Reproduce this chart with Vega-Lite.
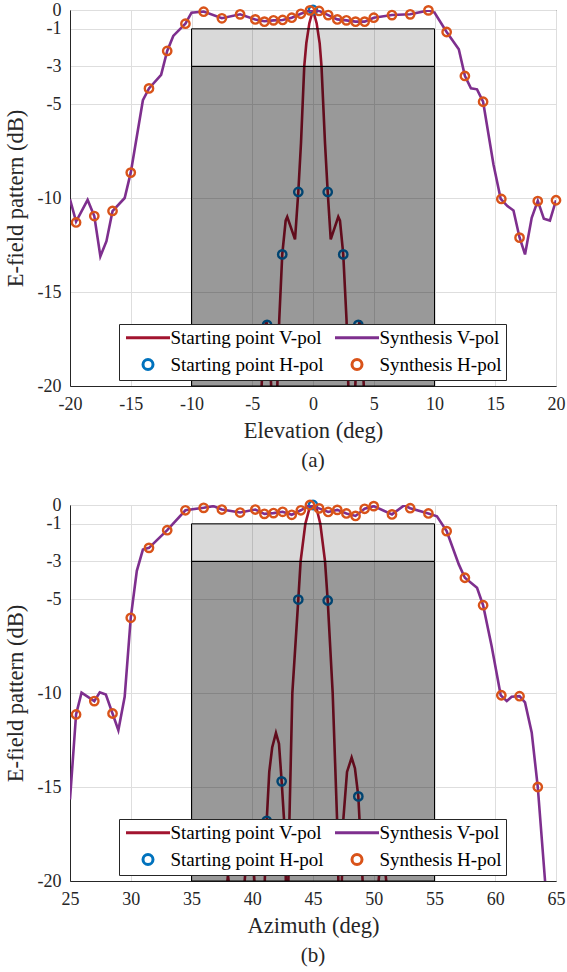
{
  "$schema": "https://vega.github.io/schema/vega-lite/v6.json",
  "background": "white",
  "padding": {"left": 3, "top": 0, "right": 0, "bottom": 5},
  "spacing": 24,
  "resolve": {"scale": {"color": "independent", "shape": "independent"}},
  "datasets": {
    "elev": [
      {"series": "Starting point V-pol", "x": -5.0, "y": -28},
      {"series": "Starting point V-pol", "x": -4.25, "y": -20.3},
      {"series": "Starting point V-pol", "x": -4.05, "y": -17.6},
      {"series": "Starting point V-pol", "x": -3.85, "y": -16.5},
      {"series": "Starting point V-pol", "x": -3.65, "y": -17.3},
      {"series": "Starting point V-pol", "x": -3.42, "y": -20.3},
      {"series": "Starting point V-pol", "x": -3.18, "y": -26},
      {"series": "Starting point V-pol", "x": -2.95, "y": -20.3},
      {"series": "Starting point V-pol", "x": -2.78, "y": -16.5},
      {"series": "Starting point V-pol", "x": -2.53, "y": -13.0},
      {"series": "Starting point V-pol", "x": -2.25, "y": -11.2},
      {"series": "Starting point V-pol", "x": -2.12, "y": -11.0},
      {"series": "Starting point V-pol", "x": -1.48, "y": -12.2},
      {"series": "Starting point V-pol", "x": -1.21, "y": -9.68},
      {"series": "Starting point V-pol", "x": -0.99, "y": -7.1},
      {"series": "Starting point V-pol", "x": -0.72, "y": -3.0},
      {"series": "Starting point V-pol", "x": -0.55, "y": -1.77},
      {"series": "Starting point V-pol", "x": -0.3, "y": -0.7},
      {"series": "Starting point V-pol", "x": 0, "y": 0},
      {"series": "Starting point V-pol", "x": 0.3, "y": -0.7},
      {"series": "Starting point V-pol", "x": 0.55, "y": -1.77},
      {"series": "Starting point V-pol", "x": 0.7, "y": -3.0},
      {"series": "Starting point V-pol", "x": 0.99, "y": -7.1},
      {"series": "Starting point V-pol", "x": 1.21, "y": -9.68},
      {"series": "Starting point V-pol", "x": 1.46, "y": -12.2},
      {"series": "Starting point V-pol", "x": 2.08, "y": -11.0},
      {"series": "Starting point V-pol", "x": 2.22, "y": -11.2},
      {"series": "Starting point V-pol", "x": 2.49, "y": -13.0},
      {"series": "Starting point V-pol", "x": 2.76, "y": -16.5},
      {"series": "Starting point V-pol", "x": 2.92, "y": -20.3},
      {"series": "Starting point V-pol", "x": 3.18, "y": -26},
      {"series": "Starting point V-pol", "x": 3.46, "y": -20.3},
      {"series": "Starting point V-pol", "x": 3.66, "y": -17.3},
      {"series": "Starting point V-pol", "x": 3.85, "y": -16.5},
      {"series": "Starting point V-pol", "x": 4.02, "y": -17.6},
      {"series": "Starting point V-pol", "x": 4.2, "y": -20.3},
      {"series": "Starting point V-pol", "x": 5.0, "y": -28},

      {"series": "Starting point H-pol", "x": -3.78, "y": -16.75},
      {"series": "Starting point H-pol", "x": -2.53, "y": -13.0},
      {"series": "Starting point H-pol", "x": -1.21, "y": -9.68},
      {"series": "Starting point H-pol", "x": 0, "y": 0},
      {"series": "Starting point H-pol", "x": 1.21, "y": -9.68},
      {"series": "Starting point H-pol", "x": 2.49, "y": -13.0},
      {"series": "Starting point H-pol", "x": 3.73, "y": -16.75},

      {"series": "Synthesis V-pol", "x": -20, "y": -10.07},
      {"series": "Synthesis V-pol", "x": -19.5, "y": -11.25},
      {"series": "Synthesis V-pol", "x": -18.55, "y": -10.1},
      {"series": "Synthesis V-pol", "x": -18, "y": -10.96},
      {"series": "Synthesis V-pol", "x": -17.5, "y": -13.1},
      {"series": "Synthesis V-pol", "x": -17, "y": -12.3},
      {"series": "Synthesis V-pol", "x": -16.5, "y": -10.7},
      {"series": "Synthesis V-pol", "x": -15.5, "y": -10.0},
      {"series": "Synthesis V-pol", "x": -15, "y": -8.65},
      {"series": "Synthesis V-pol", "x": -14, "y": -4.8},
      {"series": "Synthesis V-pol", "x": -13.5, "y": -4.17},
      {"series": "Synthesis V-pol", "x": -12.5, "y": -3.45},
      {"series": "Synthesis V-pol", "x": -12, "y": -2.18},
      {"series": "Synthesis V-pol", "x": -11.5, "y": -1.38},
      {"series": "Synthesis V-pol", "x": -10.5, "y": -0.73},
      {"series": "Synthesis V-pol", "x": -10, "y": -0.14},
      {"series": "Synthesis V-pol", "x": -9, "y": -0.08},
      {"series": "Synthesis V-pol", "x": -7.5, "y": -0.44},
      {"series": "Synthesis V-pol", "x": -6, "y": -0.23},
      {"series": "Synthesis V-pol", "x": -4.75, "y": -0.5},
      {"series": "Synthesis V-pol", "x": -4, "y": -0.6},
      {"series": "Synthesis V-pol", "x": -3.25, "y": -0.55},
      {"series": "Synthesis V-pol", "x": -2.5, "y": -0.53},
      {"series": "Synthesis V-pol", "x": -1.75, "y": -0.41},
      {"series": "Synthesis V-pol", "x": -1, "y": -0.2},
      {"series": "Synthesis V-pol", "x": -0.25, "y": -0.02},
      {"series": "Synthesis V-pol", "x": 0.5, "y": -0.05},
      {"series": "Synthesis V-pol", "x": 1.25, "y": -0.27},
      {"series": "Synthesis V-pol", "x": 2, "y": -0.5},
      {"series": "Synthesis V-pol", "x": 2.75, "y": -0.55},
      {"series": "Synthesis V-pol", "x": 3.5, "y": -0.62},
      {"series": "Synthesis V-pol", "x": 4.25, "y": -0.62},
      {"series": "Synthesis V-pol", "x": 5, "y": -0.41},
      {"series": "Synthesis V-pol", "x": 6.5, "y": -0.27},
      {"series": "Synthesis V-pol", "x": 8, "y": -0.23},
      {"series": "Synthesis V-pol", "x": 9.5, "y": -0.02},
      {"series": "Synthesis V-pol", "x": 10, "y": -0.14},
      {"series": "Synthesis V-pol", "x": 11, "y": -1.17},
      {"series": "Synthesis V-pol", "x": 12, "y": -2.09},
      {"series": "Synthesis V-pol", "x": 12.5, "y": -3.5},
      {"series": "Synthesis V-pol", "x": 13, "y": -4.17},
      {"series": "Synthesis V-pol", "x": 13.5, "y": -4.22},
      {"series": "Synthesis V-pol", "x": 14, "y": -4.88},
      {"series": "Synthesis V-pol", "x": 14.85, "y": -8.2},
      {"series": "Synthesis V-pol", "x": 15.45, "y": -10.05},
      {"series": "Synthesis V-pol", "x": 16, "y": -10.43},
      {"series": "Synthesis V-pol", "x": 16.5, "y": -10.66},
      {"series": "Synthesis V-pol", "x": 17, "y": -12.1},
      {"series": "Synthesis V-pol", "x": 17.45, "y": -13.0},
      {"series": "Synthesis V-pol", "x": 18, "y": -11.05},
      {"series": "Synthesis V-pol", "x": 18.5, "y": -10.15},
      {"series": "Synthesis V-pol", "x": 19, "y": -11.1},
      {"series": "Synthesis V-pol", "x": 19.5, "y": -11.2},
      {"series": "Synthesis V-pol", "x": 20, "y": -10.12},

      {"series": "Synthesis H-pol", "x": -19.5, "y": -11.3},
      {"series": "Synthesis H-pol", "x": -18, "y": -10.96},
      {"series": "Synthesis H-pol", "x": -16.5, "y": -10.69},
      {"series": "Synthesis H-pol", "x": -15, "y": -8.65},
      {"series": "Synthesis H-pol", "x": -13.5, "y": -4.17},
      {"series": "Synthesis H-pol", "x": -12, "y": -2.18},
      {"series": "Synthesis H-pol", "x": -10.5, "y": -0.73},
      {"series": "Synthesis H-pol", "x": -9, "y": -0.09},
      {"series": "Synthesis H-pol", "x": -7.5, "y": -0.44},
      {"series": "Synthesis H-pol", "x": -6, "y": -0.23},
      {"series": "Synthesis H-pol", "x": -4.75, "y": -0.5},
      {"series": "Synthesis H-pol", "x": -4, "y": -0.62},
      {"series": "Synthesis H-pol", "x": -3.25, "y": -0.55},
      {"series": "Synthesis H-pol", "x": -2.5, "y": -0.53},
      {"series": "Synthesis H-pol", "x": -1.75, "y": -0.41},
      {"series": "Synthesis H-pol", "x": -1, "y": -0.2},
      {"series": "Synthesis H-pol", "x": -0.25, "y": -0.02},
      {"series": "Synthesis H-pol", "x": 0.5, "y": -0.05},
      {"series": "Synthesis H-pol", "x": 1.25, "y": -0.27},
      {"series": "Synthesis H-pol", "x": 2, "y": -0.5},
      {"series": "Synthesis H-pol", "x": 2.75, "y": -0.55},
      {"series": "Synthesis H-pol", "x": 3.5, "y": -0.62},
      {"series": "Synthesis H-pol", "x": 4.25, "y": -0.62},
      {"series": "Synthesis H-pol", "x": 5, "y": -0.41},
      {"series": "Synthesis H-pol", "x": 6.5, "y": -0.27},
      {"series": "Synthesis H-pol", "x": 8, "y": -0.23},
      {"series": "Synthesis H-pol", "x": 9.5, "y": -0.02},
      {"series": "Synthesis H-pol", "x": 11, "y": -1.17},
      {"series": "Synthesis H-pol", "x": 12.5, "y": -3.51},
      {"series": "Synthesis H-pol", "x": 14, "y": -4.88},
      {"series": "Synthesis H-pol", "x": 15.5, "y": -10.05},
      {"series": "Synthesis H-pol", "x": 17, "y": -12.11},
      {"series": "Synthesis H-pol", "x": 18.5, "y": -10.16},
      {"series": "Synthesis H-pol", "x": 20, "y": -10.12}
    ],
    "azim": [
      {"series": "Starting point V-pol", "x": 37.5, "y": -24},
      {"series": "Starting point V-pol", "x": 37.8, "y": -21},
      {"series": "Starting point V-pol", "x": 38.0, "y": -19.7},
      {"series": "Starting point V-pol", "x": 38.25, "y": -21},
      {"series": "Starting point V-pol", "x": 38.7, "y": -27},
      {"series": "Starting point V-pol", "x": 39.35, "y": -20.2},
      {"series": "Starting point V-pol", "x": 39.6, "y": -18.2},
      {"series": "Starting point V-pol", "x": 39.8, "y": -17.8},
      {"series": "Starting point V-pol", "x": 40.0, "y": -18.3},
      {"series": "Starting point V-pol", "x": 40.2, "y": -20.2},
      {"series": "Starting point V-pol", "x": 40.6, "y": -27},
      {"series": "Starting point V-pol", "x": 41.02, "y": -20.2},
      {"series": "Starting point V-pol", "x": 41.19, "y": -16.8},
      {"series": "Starting point V-pol", "x": 41.4, "y": -14.2},
      {"series": "Starting point V-pol", "x": 41.64, "y": -12.9},
      {"series": "Starting point V-pol", "x": 41.95, "y": -12.13},
      {"series": "Starting point V-pol", "x": 42.2, "y": -12.7},
      {"series": "Starting point V-pol", "x": 42.42, "y": -14.7},
      {"series": "Starting point V-pol", "x": 42.7, "y": -17.6},
      {"series": "Starting point V-pol", "x": 42.87, "y": -24},
      {"series": "Starting point V-pol", "x": 43.05, "y": -17.0},
      {"series": "Starting point V-pol", "x": 43.3, "y": -10.0},
      {"series": "Starting point V-pol", "x": 43.79, "y": -5.03},
      {"series": "Starting point V-pol", "x": 43.98, "y": -3.0},
      {"series": "Starting point V-pol", "x": 44.37, "y": -1.0},
      {"series": "Starting point V-pol", "x": 44.7, "y": -0.2},
      {"series": "Starting point V-pol", "x": 45.0, "y": 0},
      {"series": "Starting point V-pol", "x": 45.3, "y": -0.2},
      {"series": "Starting point V-pol", "x": 45.6, "y": -1.0},
      {"series": "Starting point V-pol", "x": 45.99, "y": -3.0},
      {"series": "Starting point V-pol", "x": 46.21, "y": -5.08},
      {"series": "Starting point V-pol", "x": 46.62, "y": -10.0},
      {"series": "Starting point V-pol", "x": 46.98, "y": -16.7},
      {"series": "Starting point V-pol", "x": 47.22, "y": -24},
      {"series": "Starting point V-pol", "x": 47.5, "y": -16.7},
      {"series": "Starting point V-pol", "x": 47.8, "y": -14.2},
      {"series": "Starting point V-pol", "x": 48.18, "y": -13.44},
      {"series": "Starting point V-pol", "x": 48.45, "y": -14.0},
      {"series": "Starting point V-pol", "x": 48.73, "y": -15.5},
      {"series": "Starting point V-pol", "x": 49.1, "y": -20.2},
      {"series": "Starting point V-pol", "x": 49.6, "y": -27},
      {"series": "Starting point V-pol", "x": 50.37, "y": -20.2},
      {"series": "Starting point V-pol", "x": 50.7, "y": -17.9},
      {"series": "Starting point V-pol", "x": 51.06, "y": -20.2},
      {"series": "Starting point V-pol", "x": 51.5, "y": -26},

      {"series": "Starting point H-pol", "x": 41.19, "y": -16.8},
      {"series": "Starting point H-pol", "x": 42.42, "y": -14.7},
      {"series": "Starting point H-pol", "x": 43.79, "y": -5.03},
      {"series": "Starting point H-pol", "x": 45.0, "y": 0},
      {"series": "Starting point H-pol", "x": 46.21, "y": -5.08},
      {"series": "Starting point H-pol", "x": 48.73, "y": -15.5},

      {"series": "Synthesis V-pol", "x": 25, "y": -15.66},
      {"series": "Synthesis V-pol", "x": 25.5, "y": -11.14},
      {"series": "Synthesis V-pol", "x": 25.95, "y": -9.98},
      {"series": "Synthesis V-pol", "x": 27, "y": -10.43},
      {"series": "Synthesis V-pol", "x": 27.45, "y": -9.96},
      {"series": "Synthesis V-pol", "x": 27.95, "y": -10.08},
      {"series": "Synthesis V-pol", "x": 28.5, "y": -11.09},
      {"series": "Synthesis V-pol", "x": 28.98, "y": -11.98},
      {"series": "Synthesis V-pol", "x": 29.5, "y": -10.2},
      {"series": "Synthesis V-pol", "x": 30, "y": -6.0},
      {"series": "Synthesis V-pol", "x": 30.5, "y": -3.5},
      {"series": "Synthesis V-pol", "x": 31, "y": -2.37},
      {"series": "Synthesis V-pol", "x": 31.5, "y": -2.28},
      {"series": "Synthesis V-pol", "x": 33, "y": -1.34},
      {"series": "Synthesis V-pol", "x": 34.5, "y": -0.28},
      {"series": "Synthesis V-pol", "x": 36, "y": -0.15},
      {"series": "Synthesis V-pol", "x": 36.8, "y": -0.06},
      {"series": "Synthesis V-pol", "x": 37.5, "y": -0.24},
      {"series": "Synthesis V-pol", "x": 39, "y": -0.4},
      {"series": "Synthesis V-pol", "x": 40.25, "y": -0.24},
      {"series": "Synthesis V-pol", "x": 41, "y": -0.47},
      {"series": "Synthesis V-pol", "x": 41.75, "y": -0.43},
      {"series": "Synthesis V-pol", "x": 42.5, "y": -0.36},
      {"series": "Synthesis V-pol", "x": 43.25, "y": -0.52},
      {"series": "Synthesis V-pol", "x": 44, "y": -0.28},
      {"series": "Synthesis V-pol", "x": 44.75, "y": 0},
      {"series": "Synthesis V-pol", "x": 45.5, "y": -0.18},
      {"series": "Synthesis V-pol", "x": 46.25, "y": -0.37},
      {"series": "Synthesis V-pol", "x": 47, "y": -0.26},
      {"series": "Synthesis V-pol", "x": 47.75, "y": -0.45},
      {"series": "Synthesis V-pol", "x": 48.5, "y": -0.58},
      {"series": "Synthesis V-pol", "x": 49.25, "y": -0.2},
      {"series": "Synthesis V-pol", "x": 50, "y": -0.06},
      {"series": "Synthesis V-pol", "x": 51.5, "y": -0.5},
      {"series": "Synthesis V-pol", "x": 52.5, "y": -0.02},
      {"series": "Synthesis V-pol", "x": 53, "y": -0.17},
      {"series": "Synthesis V-pol", "x": 54.5, "y": -0.45},
      {"series": "Synthesis V-pol", "x": 55.2, "y": -0.6},
      {"series": "Synthesis V-pol", "x": 56, "y": -1.39},
      {"series": "Synthesis V-pol", "x": 57, "y": -3.16},
      {"series": "Synthesis V-pol", "x": 57.5, "y": -3.87},
      {"series": "Synthesis V-pol", "x": 58.5, "y": -4.4},
      {"series": "Synthesis V-pol", "x": 59, "y": -5.33},
      {"series": "Synthesis V-pol", "x": 59.7, "y": -7.5},
      {"series": "Synthesis V-pol", "x": 60.45, "y": -10.12},
      {"series": "Synthesis V-pol", "x": 60.95, "y": -10.43},
      {"series": "Synthesis V-pol", "x": 61.35, "y": -10.2},
      {"series": "Synthesis V-pol", "x": 62, "y": -10.17},
      {"series": "Synthesis V-pol", "x": 62.45, "y": -10.5},
      {"series": "Synthesis V-pol", "x": 63, "y": -12.1},
      {"series": "Synthesis V-pol", "x": 63.5, "y": -15.0},
      {"series": "Synthesis V-pol", "x": 64.1, "y": -20.0},
      {"series": "Synthesis V-pol", "x": 64.5, "y": -23},

      {"series": "Synthesis H-pol", "x": 25.5, "y": -11.14},
      {"series": "Synthesis H-pol", "x": 27, "y": -10.43},
      {"series": "Synthesis H-pol", "x": 28.5, "y": -11.09},
      {"series": "Synthesis H-pol", "x": 30, "y": -6.0},
      {"series": "Synthesis H-pol", "x": 31.5, "y": -2.28},
      {"series": "Synthesis H-pol", "x": 33, "y": -1.34},
      {"series": "Synthesis H-pol", "x": 34.5, "y": -0.28},
      {"series": "Synthesis H-pol", "x": 36, "y": -0.15},
      {"series": "Synthesis H-pol", "x": 37.5, "y": -0.24},
      {"series": "Synthesis H-pol", "x": 39, "y": -0.4},
      {"series": "Synthesis H-pol", "x": 40.25, "y": -0.24},
      {"series": "Synthesis H-pol", "x": 41, "y": -0.47},
      {"series": "Synthesis H-pol", "x": 41.75, "y": -0.43},
      {"series": "Synthesis H-pol", "x": 42.5, "y": -0.36},
      {"series": "Synthesis H-pol", "x": 43.25, "y": -0.52},
      {"series": "Synthesis H-pol", "x": 44, "y": -0.28},
      {"series": "Synthesis H-pol", "x": 44.75, "y": 0},
      {"series": "Synthesis H-pol", "x": 45.5, "y": -0.18},
      {"series": "Synthesis H-pol", "x": 46.25, "y": -0.37},
      {"series": "Synthesis H-pol", "x": 47, "y": -0.26},
      {"series": "Synthesis H-pol", "x": 47.75, "y": -0.45},
      {"series": "Synthesis H-pol", "x": 48.5, "y": -0.58},
      {"series": "Synthesis H-pol", "x": 49.25, "y": -0.2},
      {"series": "Synthesis H-pol", "x": 50, "y": -0.06},
      {"series": "Synthesis H-pol", "x": 51.5, "y": -0.5},
      {"series": "Synthesis H-pol", "x": 53, "y": -0.17},
      {"series": "Synthesis H-pol", "x": 54.5, "y": -0.45},
      {"series": "Synthesis H-pol", "x": 56, "y": -1.39},
      {"series": "Synthesis H-pol", "x": 57.5, "y": -3.87},
      {"series": "Synthesis H-pol", "x": 59, "y": -5.33},
      {"series": "Synthesis H-pol", "x": 60.5, "y": -10.12},
      {"series": "Synthesis H-pol", "x": 62, "y": -10.17},
      {"series": "Synthesis H-pol", "x": 63.5, "y": -15.0}
    ],
    "zonesA": [
      {"zone": "light", "x1": -10, "x2": 10, "y1": -1, "y2": -3},
      {"zone": "dark", "x1": -10, "x2": 10, "y1": -3, "y2": -20}
    ],
    "zonesB": [
      {"zone": "light", "x1": 35, "x2": 55, "y1": -1, "y2": -3},
      {"zone": "dark", "x1": 35, "x2": 55, "y1": -3, "y2": -20}
    ]
  },
  "vconcat": [
    {
      "width": 486,
      "height": 376,
      "title": {"text": "(a)", "orient": "bottom", "frame": "group", "anchor": "middle", "offset": 8},
      "encoding": {
        "x": {"type": "quantitative", "scale": {"domain": [-20, 20], "nice": false, "zero": false},
              "axis": {"title": "Elevation (deg)", "values": [-20, -15, -10, -5, 0, 5, 10, 15, 20]}},
        "y": {"type": "quantitative", "scale": {"domain": [-20, 0], "nice": false, "zero": false},
              "axis": {"title": "E-field pattern (dB)", "values": [-20, -15, -10, -5, -3, -1, 0]}}
      },
      "layer": [
        {
          "data": {"name": "elev"},
          "transform": [{"filter": "datum.series === 'Starting point V-pol'"}],
          "mark": {"type": "line", "strokeWidth": 2.6, "clip": true},
          "encoding": {
            "x": {"field": "x"},
            "y": {"field": "y"},
            "color": {"field": "series", "type": "nominal",
                      "scale": {"domain": ["Starting point V-pol", "Starting point H-pol", "Synthesis V-pol", "Synthesis H-pol"],
                                "range": ["#A2142F", "#0072BD", "#7E2F8E", "#D95319"]},
                      "legend": {"orient": "none", "legendX": 49, "legendY": 314, "columns": 2, "title": null}}
          }
        },
        {
          "data": {"name": "elev"},
          "transform": [{"filter": "datum.series === 'Starting point H-pol'"}],
          "mark": {"type": "point", "filled": false, "size": 70, "strokeWidth": 2.4, "opacity": 1},
          "encoding": {
            "x": {"field": "x"},
            "y": {"field": "y"},
            "color": {"field": "series", "type": "nominal"},
            "shape": {"field": "series", "type": "nominal",
                      "scale": {"domain": ["Starting point V-pol", "Starting point H-pol", "Synthesis V-pol", "Synthesis H-pol"],
                                "range": ["M-4.4,0H4.4", "circle", "M-4.4,0H4.4", "circle"]},
                      "legend": {"orient": "none", "legendX": 49, "legendY": 314, "columns": 2, "title": null}}
          }
        },
        {
          "data": {"name": "elev"},
          "transform": [{"filter": "datum.series === 'Synthesis V-pol'"}],
          "mark": {"type": "line", "strokeWidth": 2.6, "clip": true},
          "encoding": {
            "x": {"field": "x"},
            "y": {"field": "y"},
            "color": {"field": "series", "type": "nominal"}
          }
        },
        {
          "data": {"name": "elev"},
          "transform": [{"filter": "datum.series === 'Synthesis H-pol'"}],
          "mark": {"type": "point", "filled": false, "size": 70, "strokeWidth": 2.4, "opacity": 1},
          "encoding": {
            "x": {"field": "x"},
            "y": {"field": "y"},
            "color": {"field": "series", "type": "nominal"},
            "shape": {"field": "series", "type": "nominal"}
          }
        },
        {
          "data": {"name": "zonesA"},
          "transform": [{"filter": "datum.zone === 'light'"}],
          "mark": {"type": "rect", "fill": "#000000", "fillOpacity": 0.15, "stroke": "#000000", "strokeWidth": 1},
          "encoding": {
            "x": {"field": "x1"},
            "x2": {"field": "x2"},
            "y": {"field": "y1"},
            "y2": {"field": "y2"}
          }
        },
        {
          "data": {"name": "zonesA"},
          "transform": [{"filter": "datum.zone === 'dark'"}],
          "mark": {"type": "rect", "fill": "#000000", "fillOpacity": 0.4, "stroke": "#000000", "strokeWidth": 1},
          "encoding": {
            "x": {"field": "x1"},
            "x2": {"field": "x2"},
            "y": {"field": "y1"},
            "y2": {"field": "y2"}
          }
        }
      ]
    },
    {
      "width": 486,
      "height": 376,
      "title": {"text": "(b)", "orient": "bottom", "frame": "group", "anchor": "middle", "offset": 8},
      "encoding": {
        "x": {"type": "quantitative", "scale": {"domain": [25, 65], "nice": false, "zero": false},
              "axis": {"title": "Azimuth (deg)", "values": [25, 30, 35, 40, 45, 50, 55, 60, 65]}},
        "y": {"type": "quantitative", "scale": {"domain": [-20, 0], "nice": false, "zero": false},
              "axis": {"title": "E-field pattern (dB)", "values": [-20, -15, -10, -5, -3, -1, 0]}}
      },
      "layer": [
        {
          "data": {"name": "azim"},
          "transform": [{"filter": "datum.series === 'Starting point V-pol'"}],
          "mark": {"type": "line", "strokeWidth": 2.6, "clip": true},
          "encoding": {
            "x": {"field": "x"},
            "y": {"field": "y"},
            "color": {"field": "series", "type": "nominal",
                      "scale": {"domain": ["Starting point V-pol", "Starting point H-pol", "Synthesis V-pol", "Synthesis H-pol"],
                                "range": ["#A2142F", "#0072BD", "#7E2F8E", "#D95319"]},
                      "legend": {"orient": "none", "legendX": 49, "legendY": 314, "columns": 2, "title": null}}
          }
        },
        {
          "data": {"name": "azim"},
          "transform": [{"filter": "datum.series === 'Starting point H-pol'"}],
          "mark": {"type": "point", "filled": false, "size": 70, "strokeWidth": 2.4, "opacity": 1},
          "encoding": {
            "x": {"field": "x"},
            "y": {"field": "y"},
            "color": {"field": "series", "type": "nominal"},
            "shape": {"field": "series", "type": "nominal",
                      "scale": {"domain": ["Starting point V-pol", "Starting point H-pol", "Synthesis V-pol", "Synthesis H-pol"],
                                "range": ["M-4.4,0H4.4", "circle", "M-4.4,0H4.4", "circle"]},
                      "legend": {"orient": "none", "legendX": 49, "legendY": 314, "columns": 2, "title": null}}
          }
        },
        {
          "data": {"name": "azim"},
          "transform": [{"filter": "datum.series === 'Synthesis V-pol'"}],
          "mark": {"type": "line", "strokeWidth": 2.6, "clip": true},
          "encoding": {
            "x": {"field": "x"},
            "y": {"field": "y"},
            "color": {"field": "series", "type": "nominal"}
          }
        },
        {
          "data": {"name": "azim"},
          "transform": [{"filter": "datum.series === 'Synthesis H-pol'"}],
          "mark": {"type": "point", "filled": false, "size": 70, "strokeWidth": 2.4, "opacity": 1},
          "encoding": {
            "x": {"field": "x"},
            "y": {"field": "y"},
            "color": {"field": "series", "type": "nominal"},
            "shape": {"field": "series", "type": "nominal"}
          }
        },
        {
          "data": {"name": "zonesB"},
          "transform": [{"filter": "datum.zone === 'light'"}],
          "mark": {"type": "rect", "fill": "#000000", "fillOpacity": 0.15, "stroke": "#000000", "strokeWidth": 1},
          "encoding": {
            "x": {"field": "x1"},
            "x2": {"field": "x2"},
            "y": {"field": "y1"},
            "y2": {"field": "y2"}
          }
        },
        {
          "data": {"name": "zonesB"},
          "transform": [{"filter": "datum.zone === 'dark'"}],
          "mark": {"type": "rect", "fill": "#000000", "fillOpacity": 0.4, "stroke": "#000000", "strokeWidth": 1},
          "encoding": {
            "x": {"field": "x1"},
            "x2": {"field": "x2"},
            "y": {"field": "y1"},
            "y2": {"field": "y2"}
          }
        }
      ]
    }
  ],
  "config": {
    "font": "Liberation Serif",
    "view": {"stroke": "#262626", "strokeWidth": 1},
    "axis": {
      "domainColor": "#262626",
      "tickColor": "#262626",
      "labelColor": "#262626",
      "titleColor": "#262626",
      "gridColor": "#dedede",
      "labelFont": "Liberation Serif",
      "titleFont": "Liberation Serif",
      "labelFontSize": 18,
      "titleFontSize": 22.5,
      "titleFontWeight": "normal",
      "ticks": false,
      "labelOverlap": false,
      "labelExpr": "datum.value < 0 ? '-' + abs(datum.value) : '' + datum.value"
    },
    "axisX": {"labelPadding": 9, "titlePadding": 6, "labelFlush": false},
    "axisY": {"labelPadding": 9, "titlePadding": 10},
    "legend": {
      "labelFont": "Liberation Serif",
      "labelFontSize": 19,
      "labelColor": "#000000",
      "strokeColor": "#262626",
      "fillColor": "white",
      "padding": 4,
      "rowPadding": 5,
      "columnPadding": 5,
      "labelLimit": 400,
      "symbolSize": 100,
      "symbolOffset": 15.5,
      "labelOffset": 13,
      "symbolStrokeWidth": 3,
      "cornerRadius": 0
    },
    "title": {"font": "Liberation Serif", "fontSize": 21, "fontWeight": "normal", "color": "#262626"}
  }
}
